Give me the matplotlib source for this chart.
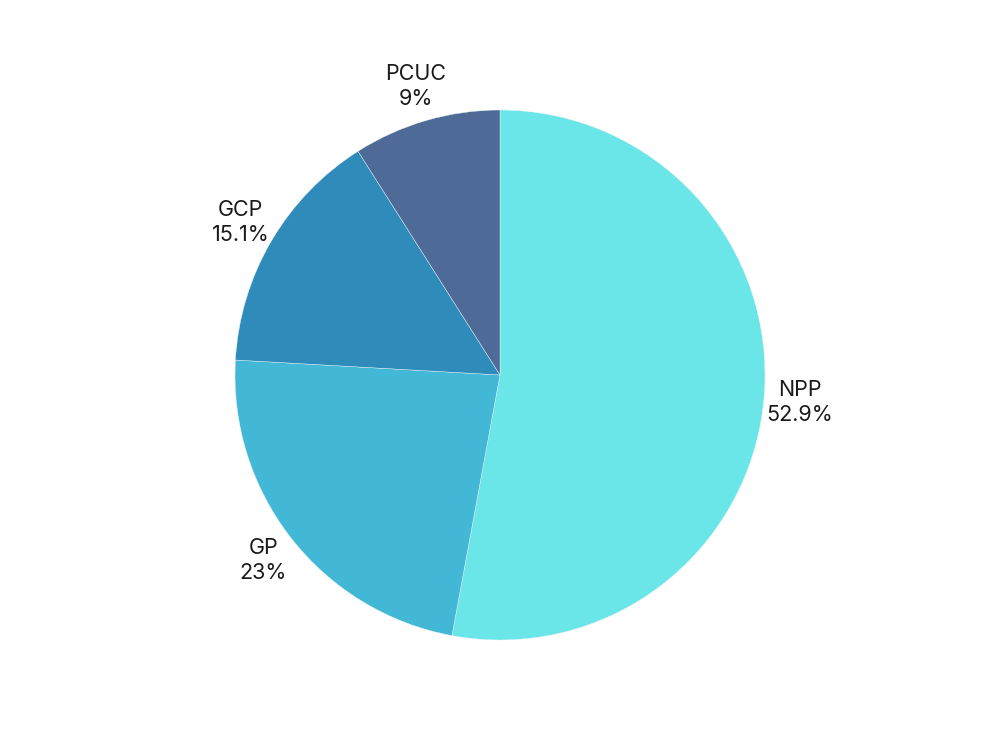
import matplotlib
matplotlib.use('Agg')
import matplotlib.pyplot as plt

labels = ['NPP', 'GP', 'GCP', 'PCUC']
values = [52.9, 23, 15.1, 9]
colors = ['#6ae5e8', '#42b8d6', '#2e8bba', '#4e6b97']

plt.rcParams['font.family'] = ['Inter', 'DejaVu Sans']

fig = plt.figure(figsize=(10, 7.5), dpi=100)
ax = fig.add_axes((0, 0, 1, 1))

r = 265.0
texts = ['%s\n%s%%' % (l, ('%g' % v)) for l, v in zip(labels, values)]
wedges, lbls = ax.pie(values, labels=texts, colors=colors, startangle=90,
                      counterclock=False, labeldistance=1.135,
                      wedgeprops={'linewidth': 0.3, 'edgecolor': '#e8f4f8'},
                      textprops={'fontsize': 15.5, 'color': '#1a1a1a',
                                 'ha': 'center', 'va': 'center',
                                 'linespacing': 1.3})
for t in lbls:
    t.set_horizontalalignment('center')

ax.set_aspect('equal')
ax.set_xlim(-500 / r, 500 / r)
ax.set_ylim(-375 / r, 375 / r)
ax.axis('off')

fig.savefig('out.png', dpi=100)
